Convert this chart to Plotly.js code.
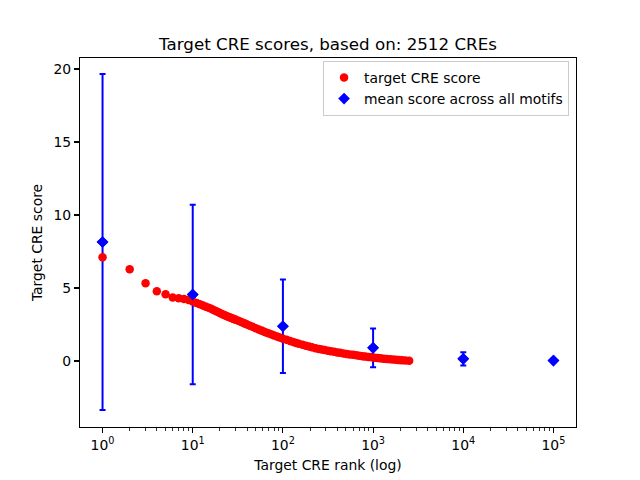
<!DOCTYPE html>
<html>
<head>
<meta charset="utf-8">
<script src="https://cdn.plot.ly/plotly-3.0.1.min.js"></script>
<style>html,body{margin:0;padding:0;background:#fff;}#chart{width:640px;height:480px;}</style>
</head>
<body>
<div id="chart"></div>
<script>
// Target CRE scores (rank -> score)
var creRanks = [1,2,3,4,5,6,7,8,9,10,11,12,13,14,15,16,17,18,19,20,21,22,23,24,25,26,27,28,29,30,
  32,34,36,38,40,43,46,50,54,58,62,66,70,75,80,86,92,100,
  110,120,130,140,150,165,180,195,210,230,250,270,290,315,340,370,400,430,470,510,550,600,650,700,760,820,890,960,1040,1120,1210,1310,1420,1540,1660,1800,1950,2100,2280,2512];
var creScores = [7.10,6.28,5.32,4.77,4.57,4.35,4.30,4.25,4.18,4.08,3.98,3.88,3.80,3.72,3.65,3.58,3.50,3.42,3.35,3.28,3.22,3.17,3.12,3.07,3.02,2.98,2.94,2.90,2.86,2.82,
  2.75,2.68,2.62,2.56,2.50,2.42,2.34,2.25,2.16,2.08,2.00,1.94,1.88,1.81,1.75,1.68,1.61,1.53,
  1.45,1.37,1.30,1.24,1.18,1.11,1.05,0.99,0.94,0.88,0.83,0.79,0.75,0.71,0.67,0.63,0.59,0.56,0.52,0.48,0.45,0.42,0.39,0.36,0.33,0.30,0.27,0.25,0.22,0.20,0.18,0.16,0.14,0.12,0.10,0.08,0.06,0.05,0.03,0.01];

// Mean score across all motifs
var motifRanks = [1,10,100,1000,10000,100000];
var motifMeans = [8.15,4.55,2.38,0.90,0.15,0.03];
var motifErr   = [11.5,6.15,3.2,1.32,0.45,0.04];

var xTickVals = [1,10,100,1000,10000,100000];
var xTickText = ['10<sup>0</sup>','10<sup>1</sup>','10<sup>2</sup>','10<sup>3</sup>','10<sup>4</sup>','10<sup>5</sup>'];
var yTickVals = [0,5,10,15,20];

var minorVals = [];
for (var d = 0; d < 6; d++) {
  for (var m = 2; m <= 9; m++) minorVals.push(m * Math.pow(10, d));
}

var FONT = 'DejaVu Sans, sans-serif';

var traces = [
  {
    x: motifRanks, y: motifMeans, type: 'scatter', mode: 'markers',
    name: 'mean score across all motifs',
    marker: {symbol: 'diamond', color: '#0000ff', size: 9},
    error_y: {type: 'data', array: motifErr, visible: true, color: '#0000ff', thickness: 2, width: 3}
  },
  {
    x: creRanks, y: creScores, type: 'scatter', mode: 'markers',
    name: 'target CRE score',
    marker: {symbol: 'circle', color: '#ff0000', size: 8.5}
  },
  {
    x: motifRanks, y: motifMeans, type: 'scatter', mode: 'markers',
    showlegend: false, hoverinfo: 'skip',
    marker: {symbol: 'diamond', color: '#0000ff', size: 9}
  }
];

var layout = {
  width: 640, height: 480,
  margin: {l: 80, r: 64, t: 58, b: 53},
  paper_bgcolor: '#ffffff', plot_bgcolor: '#ffffff',
  font: {family: FONT, size: 13.9, color: '#000'},
  showlegend: true,
  title: {text: 'Target CRE scores, based on: 2512 CREs', font: {family: FONT, size: 16.7, color: '#000'},
    x: 0.5, xref: 'paper', y: 1 - 44/480, yref: 'container', yanchor: 'middle'},
  xaxis: {
    type: 'log', range: [-0.25, 5.25],
    tickvals: xTickVals, ticktext: xTickText,
    ticks: 'outside', ticklen: 5, tickwidth: 1.1, tickcolor: '#000',
    minor: {tickvals: minorVals, ticks: 'outside', ticklen: 3, tickwidth: 0.8, tickcolor: '#000', showgrid: false},
    showline: true, linecolor: '#000', linewidth: 1.1, mirror: true,
    showgrid: false, zeroline: false,
    tickfont: {family: FONT, size: 13.9, color: '#000'},
    title: {text: 'Target CRE rank (log)', font: {family: FONT, size: 13.9, color: '#000'}, standoff: 8}
  },
  yaxis: {
    range: [-4.52, 20.75],
    tickvals: yTickVals,
    ticks: 'outside', ticklen: 5, tickwidth: 1.1, tickcolor: '#000',
    showline: true, linecolor: '#000', linewidth: 1.1, mirror: true,
    showgrid: false, zeroline: false,
    tickfont: {family: FONT, size: 13.9, color: '#000'},
    title: {text: 'Target CRE score', font: {family: FONT, size: 13.9, color: '#000'}, standoff: 7}
  },
  legend: {
    x: 0.986, y: 0.992, xanchor: 'right', yanchor: 'top',
    traceorder: 'reversed',
    bgcolor: 'rgba(255,255,255,0.8)', bordercolor: '#cccccc', borderwidth: 1,
    font: {family: FONT, size: 13.9, color: '#000'}
  }
};

Plotly.newPlot('chart', traces, layout, {staticPlot: true, displayModeBar: false});
</script>
</body>
</html>
